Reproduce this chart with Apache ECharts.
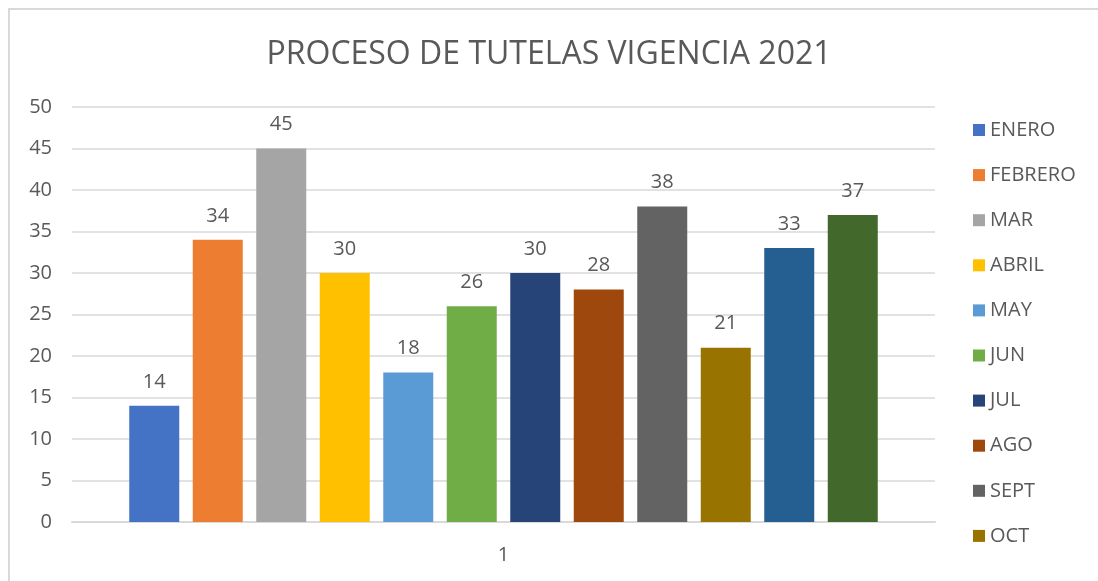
<!DOCTYPE html>
<html><head><meta charset="utf-8">
<script src="https://cdn.jsdelivr.net/npm/echarts@6/dist/echarts.min.js"></script>
<style>html,body{margin:0;padding:0;background:#fff}#c{width:1098px;height:581px}</style>
</head><body><div id="c"></div>
<script>
const categories = ['1'];
const seriesNames = ['ENERO','FEBRERO','MAR','ABRIL','MAY','JUN','JUL','AGO','SEPT','OCT','NOV','DIC'];
const seriesValues = [14,34,45,30,18,26,30,28,38,21,33,37];
const colors = ['#4472C4','#ED7D31','#A5A5A5','#FFC000','#5B9BD5','#70AD47','#264478','#9E480E','#636363','#997300','#255E91','#43682B'];
const visibleLegend = seriesNames.slice(0, 10);
const yTicks = [0,5,10,15,20,25,30,35,40,45,50];
const font = '"Open Sans", "Noto Sans", sans-serif';
const chart = echarts.init(document.getElementById('c'));
chart.setOption({
  animation:false,
  title:{text:'PROCESO DE TUTELAS VIGENCIA 2021', left:'center', top:34, padding:[5,0,5,13],
    textStyle:{fontFamily:font, fontSize:32, fontWeight:'normal', color:'#595959'}},
  graphic:[{type:'rect', shape:{x:9,y:9,width:1200,height:700}, style:{fill:'none', stroke:'#d9d9d9', lineWidth:2}, silent:true}],
  legend:{orient:'vertical', left:968, top:115, height:1000, itemGap:25.1, itemWidth:12, itemHeight:12,
    icon:'rect', data:visibleLegend,
    textStyle:{fontFamily:font, fontSize:20, lineHeight:20, color:'#595959', padding:[0,0,0,0]}},
  grid:{left:72, right:163, top:107, bottom:59},
  xAxis:{type:'category', data:categories,
    axisLine:{lineStyle:{color:'#d9d9d9', width:2}}, axisTick:{show:false},
    axisLabel:{fontFamily:font, fontSize:20, color:'#595959', margin:23}},
  yAxis:{type:'value', min:yTicks[0], max:yTicks[yTicks.length-1], interval:5,
    axisLine:{show:false}, axisTick:{show:false},
    splitLine:{lineStyle:{color:'#d9d9d9', width:1.5}},
    axisLabel:{fontFamily:font, fontSize:20, color:'#595959', margin:20}},
  series: seriesNames.map((n,i)=>({
    name:n, type:'bar', data:[seriesValues[i]], barWidth:50, barGap:'27%',
    itemStyle:{color:colors[i]},
    label:{show:true, position:'top', distance:14, fontFamily:font, fontSize:20, color:'#595959'}
  }))
});
</script></body></html>
